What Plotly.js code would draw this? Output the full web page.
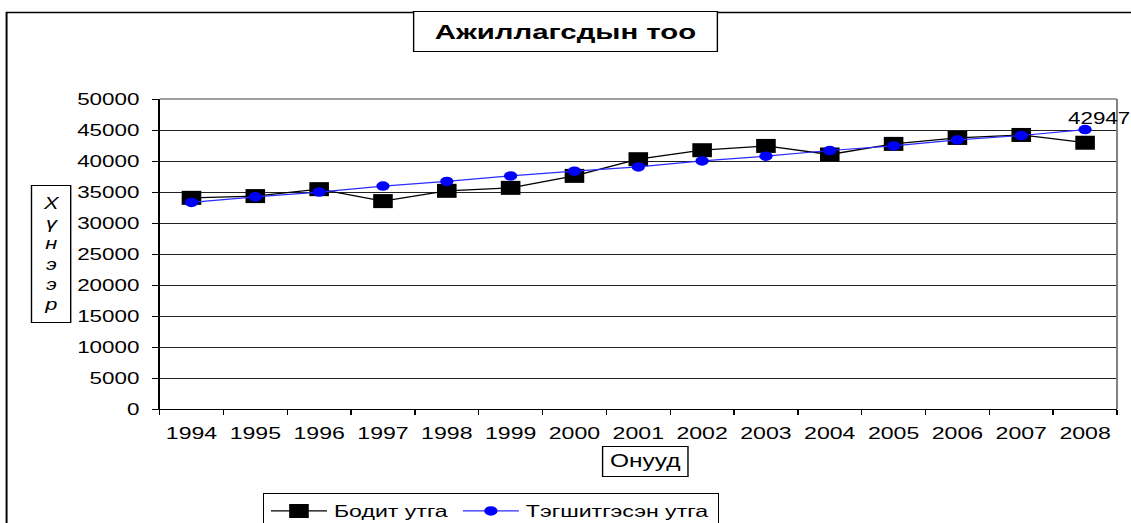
<!DOCTYPE html>
<html>
<head>
<meta charset="utf-8">
<script src="https://cdn.plot.ly/plotly-3.0.1.min.js"></script>
<style>
  html, body { margin: 0; padding: 0; background: #ffffff; overflow: hidden; }
  #chart { width: 808px; height: 523px; transform: scaleX(1.39975); transform-origin: 0 0; }
</style>
</head>
<body>
<div id="chart"></div>
<script>
// ---- data ----
const years = ['1994','1995','1996','1997','1998','1999','2000','2001','2002','2003','2004','2005','2006','2007','2008'];
const actual = [34060, 34340, 35460, 33530, 35190, 35670, 37600, 40290, 41740, 42430, 41050, 42760, 43720, 44200, 42947];
const smoothed = [33320, 34220, 34980, 35950, 36700, 37600, 38360, 39050, 40020, 40780, 41690, 42430, 43400, 44110, 45070];
const seriesNames = ['Бодит утга', 'Тэгшитгэсэн утга'];
const chartTitle = 'Ажиллагсдын тоо';
const yTitleLetters = ['Х', 'ү', 'н', 'э', 'э', 'р'];
const xTitle = 'Онууд';

const FONT = 'Liberation Sans, Arial, sans-serif';
const last = years.length - 1;

const traces = [
  {
    type: 'scatter', mode: 'lines+markers', name: seriesNames[0],
    x: years, y: actual,
    line: { color: '#000000', width: 1.3 },
    marker: { symbol: 'square', size: 14, color: '#000000' },
    cliponaxis: false
  },
  {
    type: 'scatter', mode: 'lines+markers', name: seriesNames[1],
    x: years, y: smoothed,
    line: { color: '#2b2bff', width: 1.2 },
    marker: { symbol: 'circle', size: 9.5, color: '#0000ff' },
    cliponaxis: false
  }
];

const layout = {
  width: 808, height: 523,
  margin: { l: 114.3, r: 9.6, t: 98.7, b: 113.7, pad: 0, autoexpand: false },
  paper_bgcolor: '#ffffff', plot_bgcolor: '#ffffff',
  font: { family: FONT, size: 16, color: '#000000' },
  showlegend: true,
  legend: {
    orientation: 'h', x: 0.1076, y: -0.27, xanchor: 'left', yanchor: 'top',
    bordercolor: '#000000', borderwidth: 1, bgcolor: '#ffffff',
    font: { family: FONT, size: 16.5, color: '#000000' },
    itemwidth: 40, tracegroupgap: 0
  },
  xaxis: {
    type: 'category', categoryorder: 'array', categoryarray: years,
    range: [-0.5, years.length - 0.5], autorange: false,
    showgrid: false, zeroline: false, automargin: false,
    showline: true, linecolor: '#000000', linewidth: 1,
    ticks: 'outside', ticklen: 5, tickcolor: '#000000', tickson: 'boundaries',
    tickangle: 0,
    tickfont: { family: FONT, size: 16.5, color: '#000000' },
    ticklabelstandoff: 9
  },
  yaxis: {
    range: [0, 50000], autorange: false, dtick: 5000, tickformat: 'd',
    showgrid: true, gridcolor: '#222222', gridwidth: 1, zeroline: false, automargin: false,
    showline: true, linecolor: '#000000', linewidth: 1.2,
    ticks: 'outside', ticklen: 4, tickcolor: '#000000',
    tickfont: { family: FONT, size: 16, color: '#000000' },
    ticklabelstandoff: 6
  },
  shapes: [
    // outer chart border (right and bottom edges fall outside the picture)
    { type: 'rect', xref: 'paper', yref: 'paper', x0: -0.1598, x1: 1.06, y0: -0.6, y1: 1.2791,
      line: { color: '#000000', width: 1.4 }, fillcolor: 'rgba(0,0,0,0)', layer: 'below' },
    // plot area border (top and right, gray)
    { type: 'line', xref: 'paper', yref: 'paper', x0: 0, x1: 1, y0: 1, y1: 1,
      line: { color: '#808080', width: 1.6 }, layer: 'above' },
    { type: 'line', xref: 'paper', yref: 'paper', x0: 1, x1: 1, y0: 0, y1: 1,
      line: { color: '#808080', width: 1.4 }, layer: 'above' }
  ],
  annotations: [
    { // chart title in a box
      xref: 'paper', yref: 'paper', x: 0.4235, y: 1.2165, xanchor: 'center', yanchor: 'middle',
      text: '<b>' + chartTitle + '</b>', showarrow: false,
      font: { family: FONT, size: 21, color: '#000000' },
      width: 214, height: 37, borderpad: 1, bordercolor: '#000000', borderwidth: 1, bgcolor: '#ffffff'
    },
    { // y axis title, stacked letters in a box
      xref: 'paper', yref: 'paper', x: -0.1128, y: 0.4985, xanchor: 'center', yanchor: 'middle',
      text: yTitleLetters.map(c => '<i>' + c + '</i>').join('<br>'), showarrow: false,
      font: { family: FONT, size: 15.6, color: '#000000' },
      width: 25, height: 134, borderpad: 1, bordercolor: '#000000', borderwidth: 1, bgcolor: '#ffffff'
    },
    { // x axis title in a box
      xref: 'paper', yref: 'paper', x: 0.507, y: -0.168, xanchor: 'center', yanchor: 'middle',
      text: xTitle, showarrow: false,
      font: { family: FONT, size: 17.5, color: '#000000' },
      width: 58, height: 27, borderpad: 1, bordercolor: '#000000', borderwidth: 1, bgcolor: '#ffffff'
    },
    { // data label on the last point (category index of the last year)
      xref: 'x', yref: 'y', x: last, y: smoothed[last],
      text: String(actual[last]), showarrow: false,
      xanchor: 'center', yanchor: 'middle', xshift: 10.7, yshift: 11,
      font: { family: FONT, size: 16, color: '#000000' }
    }
  ]
};

Plotly.newPlot('chart', traces, layout, { displayModeBar: false, responsive: false, staticPlot: true });
</script>
</body>
</html>
